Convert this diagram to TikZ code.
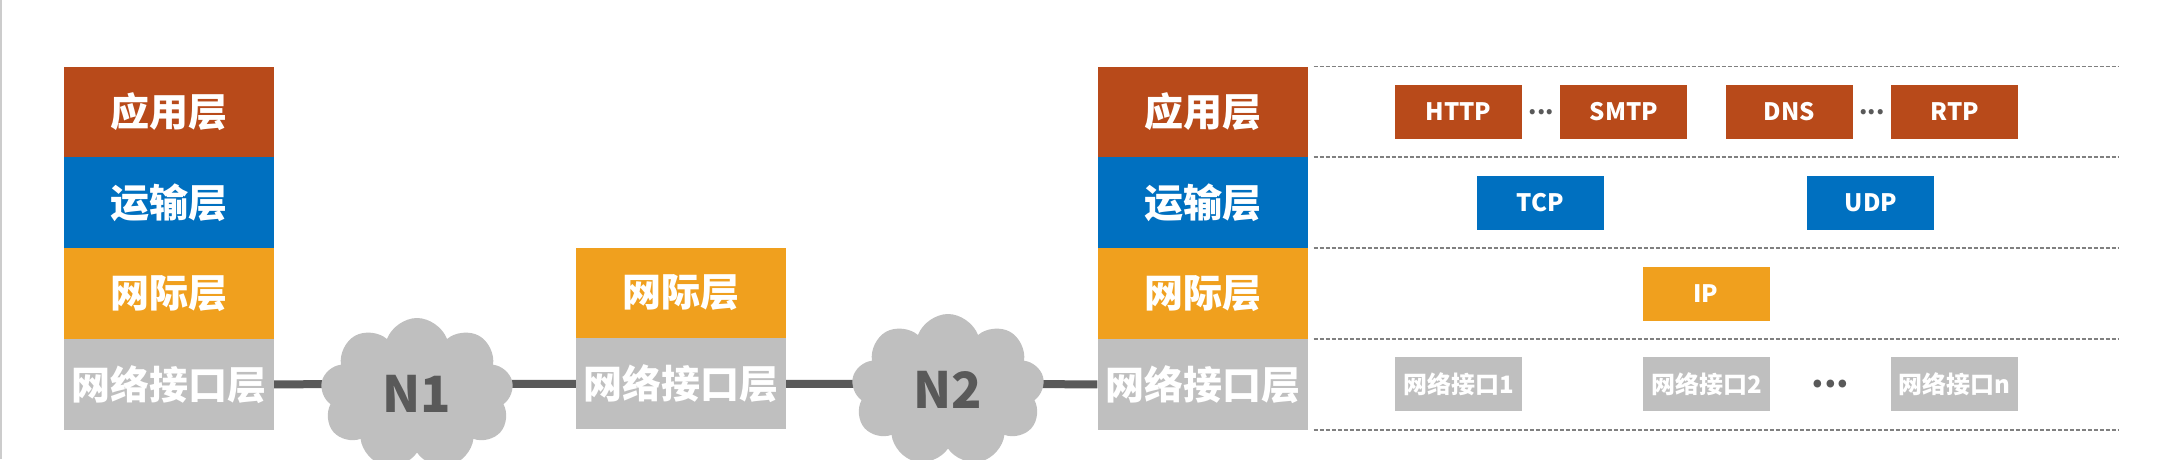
\documentclass[tikz,border=0pt]{standalone}
\usepackage{fontspec}
\setmainfont{Noto Sans CJK SC}
\usepackage{tikz}
\usetikzlibrary{positioning,calc,shapes.symbols,backgrounds}
\definecolor{appc}{RGB}{184,74,26}
\definecolor{tptc}{RGB}{0,112,192}
\definecolor{netc}{RGB}{240,160,30}
\definecolor{ifc}{RGB}{191,191,191}
\definecolor{linkc}{RGB}{89,89,89}
\definecolor{sepc}{RGB}{128,128,128}
\tikzset{
  layer/.style={minimum width=210pt, minimum height=90.5pt, inner sep=0pt,
    text=white, font=\fontsize{39}{39}\selectfont\bfseries},
  proto/.style={minimum width=127pt, minimum height=54pt, inner sep=0pt,
    text=white, font=\fontsize{24}{24}\selectfont\bfseries},
  dots/.style={inner sep=0pt, text=linkc, font=\fontsize{24}{24}\selectfont\bfseries},
  net/.style={cloud, cloud puffs=9, cloud puff arc=140, cloud ignores aspect,
    fill=ifc, minimum width=193pt, minimum height=152pt, inner sep=0pt,
    text=linkc, font=\fontsize{50}{50}\selectfont\bfseries},
  link/.style={line width=8pt, draw=linkc},
  sep/.style={line width=1.5pt, draw=sepc, dash pattern=on 4pt off 2pt}
}
\begin{document}
\begin{tikzpicture}[x=1pt, y=-1pt]
  \useasboundingbox (0,0) rectangle (2158,459);
  \draw[gray!40, line width=1.5pt] (1,0) -- (1,459);
  % host on the left
  \node[layer, fill=appc] (L1) at (169,111.75) {应用层};
  \node[layer, fill=tptc, below=0pt of L1] (L2) {运输层};
  \node[layer, fill=netc, below=0pt of L2] (L3) {网际层};
  \node[layer, fill=ifc, below=0pt of L3] (L4) {网络接口层};
  % router
  \node[layer, fill=netc] (M1) at (681,292.75) {网际层};
  \node[layer, fill=ifc, below=0pt of M1] (M2) {网络接口层};
  % host on the right
  \node[layer, fill=appc] (R1) at (1202.5,111.75) {应用层};
  \node[layer, fill=tptc, below=0pt of R1] (R2) {运输层};
  \node[layer, fill=netc, below=0pt of R2] (R3) {网际层};
  \node[layer, fill=ifc, below=0pt of R3] (R4) {网络接口层};
  % networks
  \node[net] (N1) at (417,394) {N1};
  \node[net] (N2) at (948,390) {N2};
  \begin{scope}[on background layer]
    \draw[link] (L4) -- (M2) -- (R4);
  \end{scope}
  % protocols
  \foreach \r in {R1,R2,R3,R4}
    \draw[sep] ([xshift=6pt]\r.north east) -- ++(805,0);
  \draw[sep] ([xshift=6pt]R4.south east) -- ++(805,0);
  \node[proto, fill=appc] (HTTP) at (1458.5,0 |- R1) {HTTP};
  \node[proto, fill=appc, right=38pt of HTTP] (SMTP) {SMTP};
  \node[proto, fill=appc, right=38pt of SMTP] (DNS) {DNS};
  \node[proto, fill=appc, right=38pt of DNS] (RTP) {RTP};
  \node[dots] (d1) at ($(HTTP.east)!0.5!(SMTP.west)$) {...};
  \node[dots] (d2) at ($(DNS.east)!0.5!(RTP.west)$) {...};
  \node[proto, fill=tptc] (TCP) at (1540.5,0 |- R2) {TCP};
  \node[proto, fill=tptc, right=203pt of TCP] (UDP) {UDP};
  \node[proto, fill=netc] (IP) at (1706,0 |- R3) {IP};
  \node[proto, fill=ifc] (IF1) at (1458.5,0 |- R4) {网络接口1};
  \node[proto, fill=ifc, right=120.5pt of IF1] (IF2) {网络接口2};
  \node[proto, fill=ifc, right=120.5pt of IF2] (IFn) {网络接口n};
  \node[dots, font=\fontsize{36}{36}\selectfont\bfseries] (d3) at ($(IF2.east)!0.5!(IFn.west)$) {...};
\end{tikzpicture}
\end{document}
